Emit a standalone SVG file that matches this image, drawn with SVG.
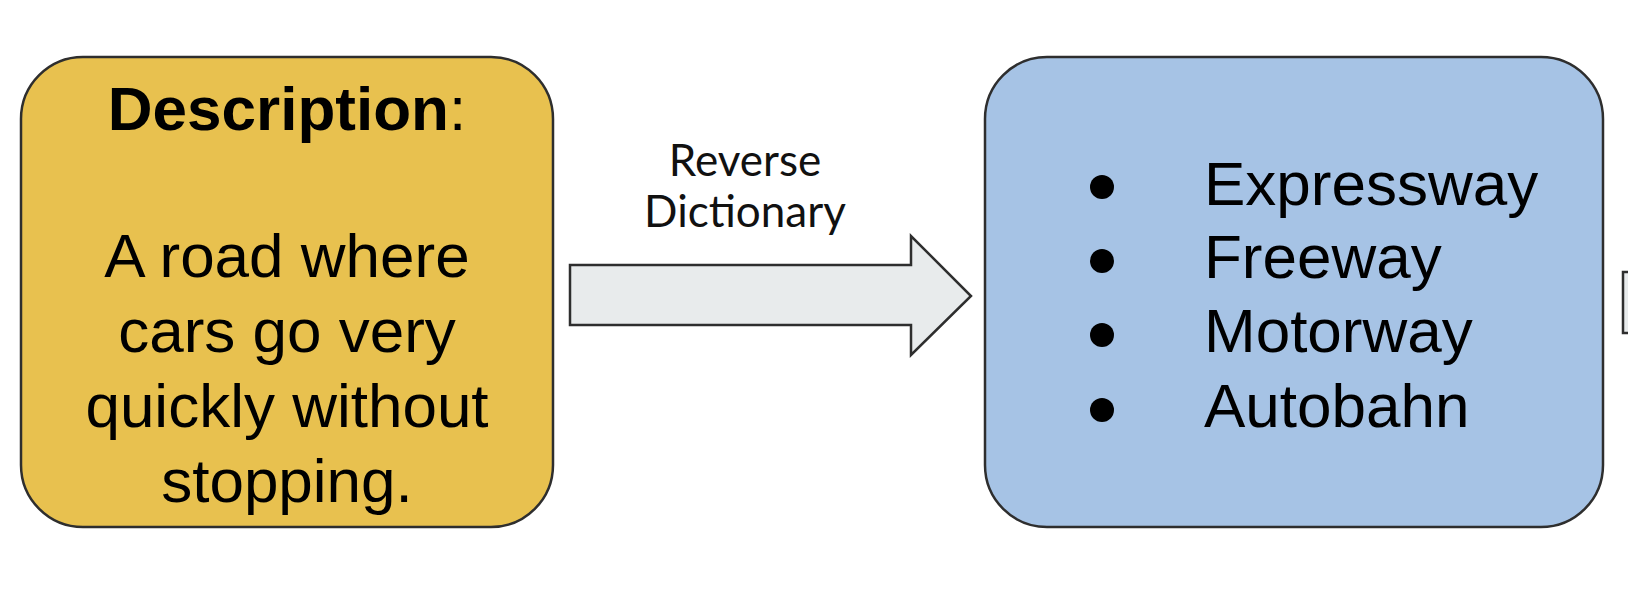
<svg xmlns="http://www.w3.org/2000/svg" width="1628" height="600" viewBox="0 0 1628 600">
<style>
.box{stroke:#2e2e2e;stroke-width:2.5}
.t{font-family:"Liberation Sans",Arial,sans-serif;font-size:62px;fill:#000}
.lbl{font-family:Lato,"Liberation Sans",sans-serif;font-size:44px;fill:#111;text-anchor:middle}
.arrow{fill:#e8ebec;stroke:#2e2e2e;stroke-width:2.5;stroke-linejoin:miter}
</style>
<rect width="1628" height="600" fill="#fff"/>
<g id="description">
<rect class="box" x="21" y="57" width="532" height="470" rx="62" ry="62" fill="#e8c14f"/>
<text class="t" text-anchor="middle" x="287" y="130"><tspan font-weight="bold">Description</tspan>:</text>
<text class="t" text-anchor="middle" x="287" y="277">A road where</text>
<text class="t" text-anchor="middle" x="287" y="352">cars go very</text>
<text class="t" text-anchor="middle" x="287" y="427">quickly without</text>
<text class="t" text-anchor="middle" x="287" y="502">stopping.</text>
</g>
<g id="connectors">
<path class="arrow" d="M570 265 H911 V236 L971 296 L911 355 V325 H570 Z"/>
<text class="lbl" x="745" y="176">Reverse</text>
<text class="lbl" x="745" y="227">Dictionary</text>
<rect class="arrow" x="1623" y="272" width="20" height="61"/>
</g>
<g id="words">
<rect class="box" x="985" y="57" width="618" height="470" rx="62" ry="62" fill="#a6c3e5"/>
<circle cx="1102" cy="187" r="12" fill="#000"/>
<circle cx="1102" cy="261" r="12" fill="#000"/>
<circle cx="1102" cy="335" r="12" fill="#000"/>
<circle cx="1102" cy="410" r="12" fill="#000"/>
<text class="t" x="1204" y="205">Expressway</text>
<text class="t" x="1204" y="278">Freeway</text>
<text class="t" x="1204" y="352">Motorway</text>
<text class="t" x="1204" y="427">Autobahn</text>
</g>
</svg>
